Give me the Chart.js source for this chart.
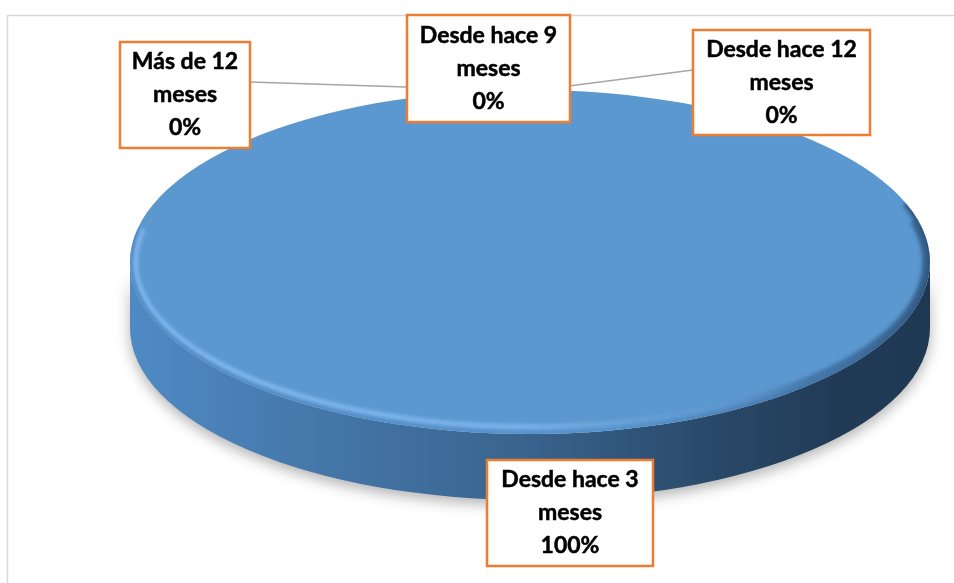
<!DOCTYPE html>
<html>
<head>
<meta charset="utf-8">
<script src="https://cdn.jsdelivr.net/npm/chart.js@4.4.1/dist/chart.umd.min.js"></script>
<style>
  html, body { margin: 0; padding: 0; background: #ffffff; }
  #wrap { position: relative; width: 954px; height: 583px; overflow: hidden; }
  canvas { display: block; }
</style>
</head>
<body>
<div id="wrap"><canvas id="c" width="954" height="583"></canvas></div>
<script>
// ---- data ----
const categories = ['Desde hace 3 meses', 'Desde hace 9 meses', 'Desde hace 12 meses', 'Más de 12 meses'];
const values = [100, 0, 0, 0];
const percentLabels = ['100%', '0%', '0%', '0%'];

// ---- layout (label boxes: left, top, width, height) ----
const labelBoxes = [
  { x: 487, y: 460, w: 166, h: 106 },
  { x: 407, y: 15, w: 163, h: 107 },
  { x: 693, y: 30, w: 177, h: 105 },
  { x: 120, y: 42, w: 130, h: 106 }
];
const TILT = 0.43;
const FONT = 'bold 23px Lato, "Open Sans", "Liberation Sans", sans-serif';

function ellipseGeom(chart) {
  const a = chart.chartArea;
  const rx = (a.right - a.left) / 2;
  const ry = rx * TILT;
  const cx = (a.left + a.right) / 2;
  const cy = a.top + ry;
  const depth = (a.bottom - a.top) - 2 * ry;
  return { cx, cy, rx, ry, depth };
}

const pie3d = {
  id: 'pie3d',
  beforeDatasetsDraw(chart) {
    const ctx = chart.ctx;
    const { cx, cy, rx, ry, depth } = ellipseGeom(chart);
    // side wall with shadow
    ctx.save();
    ctx.beginPath();
    ctx.moveTo(cx + rx, cy);
    ctx.lineTo(cx + rx, cy + depth);
    ctx.ellipse(cx, cy + depth, rx, ry, 0, 0, Math.PI, false);
    ctx.lineTo(cx - rx, cy);
    ctx.ellipse(cx, cy, rx, ry, 0, Math.PI, 0, true);
    ctx.closePath();
    const grad = ctx.createLinearGradient(cx - rx, 0, cx + rx, 0);
    grad.addColorStop(0, '#4f8ac5');
    grad.addColorStop(0.25, '#4476a8');
    grad.addColorStop(0.5, '#39638d');
    grad.addColorStop(0.72, '#2a4a6b');
    grad.addColorStop(0.88, '#213b57');
    grad.addColorStop(1, '#1f3852');
    ctx.shadowColor = 'rgba(0,0,0,0.30)';
    ctx.shadowBlur = 14;
    ctx.shadowOffsetY = 5;
    ctx.fillStyle = grad;
    ctx.fill();
    ctx.restore();

    // map the library's circular pie onto the tilted top face
    const arc = chart.getDatasetMeta(0).data[0];
    const r = arc.outerRadius;
    ctx.save();
    ctx.translate(cx, cy);
    ctx.scale(rx / r, ry / r);
    ctx.translate(-arc.x, -arc.y);
  },
  afterDatasetsDraw(chart) {
    const ctx = chart.ctx;
    ctx.restore();
    const { cx, cy, rx, ry } = ellipseGeom(chart);
    ctx.save();
    ctx.beginPath();
    ctx.ellipse(cx, cy, rx, ry, 0, 0, Math.PI * 2);
    ctx.clip();
    ctx.filter = 'blur(2px)';
    const hg = ctx.createLinearGradient(cx - rx, 0, cx + rx, 0);
    hg.addColorStop(0, 'rgba(150,205,255,0.95)');
    hg.addColorStop(0.5, 'rgba(150,205,255,0.75)');
    hg.addColorStop(0.72, 'rgba(120,170,220,0.25)');
    hg.addColorStop(0.85, 'rgba(40,75,115,0.55)');
    hg.addColorStop(1, 'rgba(30,60,95,0.75)');
    ctx.strokeStyle = hg;
    ctx.lineWidth = 4;
    ctx.beginPath();
    ctx.ellipse(cx, cy, rx - 5, ry - 7, 0, -0.25, Math.PI + 0.2, false);
    ctx.stroke();
    ctx.lineWidth = 7;
    const eg = ctx.createLinearGradient(cx - rx, 0, cx + rx, 0);
    eg.addColorStop(0, 'rgba(70,125,185,0.6)');
    eg.addColorStop(0.6, 'rgba(70,125,185,0.2)');
    eg.addColorStop(1, 'rgba(35,65,100,0.85)');
    ctx.strokeStyle = eg;
    ctx.beginPath();
    ctx.ellipse(cx, cy, rx, ry, 0, -0.35, Math.PI + 0.2, false);
    ctx.stroke();
    ctx.restore();
  },
  afterDraw(chart) {
    const ctx = chart.ctx;
    const { cx, cy, ry } = ellipseGeom(chart);
    const topY = cy - ry;
    // chart frame
    ctx.save();
    ctx.strokeStyle = '#d9d9d9';
    ctx.lineWidth = 1.5;
    ctx.strokeRect(7.5, 15.5, 980, 620);
    ctx.restore();
    // leader lines for zero slices (to the slice start at top)
    ctx.save();
    ctx.strokeStyle = '#a6a6a6';
    ctx.lineWidth = 1.3;
    labelBoxes.forEach((b, i) => {
      if (values[i] !== 0) return;
      if (b.x < cx && b.x + b.w > cx) return;
      const lx = (b.x + b.w / 2) < cx ? b.x + b.w : b.x;
      ctx.beginPath();
      ctx.moveTo(lx, b.y + 40);
      ctx.lineTo(cx, topY + 1);
      ctx.stroke();
    });
    ctx.restore();
    // label boxes
    ctx.save();
    labelBoxes.forEach((b, i) => {
      ctx.fillStyle = '#ffffff';
      ctx.fillRect(b.x, b.y, b.w, b.h);
      ctx.strokeStyle = '#ed7d31';
      ctx.lineWidth = 2.5;
      ctx.strokeRect(b.x, b.y, b.w, b.h);
      const name = categories[i];
      const cut = name.lastIndexOf(' meses');
      const lines = [name.slice(0, cut), 'meses', percentLabels[i]];
      ctx.fillStyle = '#000000';
      ctx.strokeStyle = '#000000';
      ctx.lineWidth = 0.5;
      ctx.font = FONT;
      ctx.textAlign = 'center';
      ctx.textBaseline = 'middle';
      const mx = b.x + b.w / 2, my = b.y + b.h / 2;
      lines.forEach((t, k) => {
        ctx.fillText(t, mx, my + (k - 1) * 33);
        ctx.strokeText(t, mx, my + (k - 1) * 33);
      });
    });
    ctx.restore();
  }
};

new Chart(document.getElementById('c'), {
  type: 'pie',
  data: {
    labels: categories,
    datasets: [{
      data: values,
      backgroundColor: ['#5b98d0', '#ed7d31', '#a5a5a5', '#ffc000'],
      borderWidth: 0,
      clip: false
    }]
  },
  options: {
    responsive: false,
    animation: false,
    layout: { padding: { left: 130, right: 24, top: 90, bottom: 83 } },
    plugins: { legend: { display: false }, tooltip: { enabled: false } },
    events: []
  },
  plugins: [pie3d]
});
</script>
</body>
</html>
